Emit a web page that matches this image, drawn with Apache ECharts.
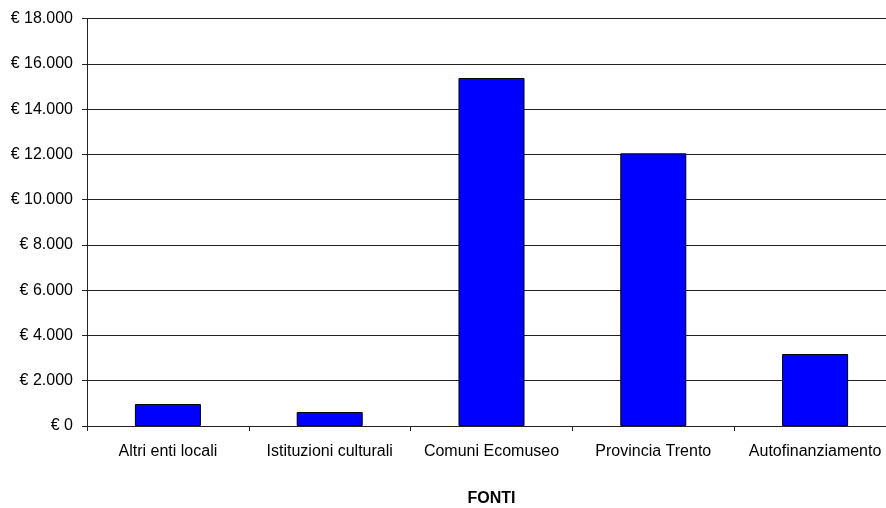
<!DOCTYPE html>
<html><head><meta charset="utf-8">
<script src="https://cdn.jsdelivr.net/npm/echarts@6/dist/echarts.min.js"></script>
<style>html,body{margin:0;padding:0;background:#fff;overflow:hidden}#c{width:886px;height:508px}</style>
</head><body><div id="c"></div>
<script>
const categories = ["Altri enti locali","Istituzioni culturali","Comuni Ecomuseo","Provincia Trento","Autofinanziamento"];
const values = [970, 620, 15380, 12050, 3180];
const axisName = "FONTI";

const chart = echarts.init(document.getElementById('c'), null, {renderer:'canvas'});
const font = "'Liberation Sans', Arial, sans-serif";
function fmt(v){
  if (v === 0) return '€ 0';
  return '€ ' + String(v).replace(/(\d)(?=(\d{3})+$)/g,'$1.');
}
chart.setOption({
  animation:false,
  backgroundColor:'#fff',
  grid:{left:87,right:-10,top:18.7,bottom:82,containLabel:false,outerBoundsMode:'none'},
  xAxis:{
    type:'category', data:categories,
    name:axisName, nameLocation:'middle', nameGap:65,
    nameTextStyle:{fontFamily:font,fontSize:16,fontWeight:'bold',color:'#000'},
    axisLine:{lineStyle:{color:'#222',width:1}},
    axisTick:{show:true,alignWithLabel:false,length:5,lineStyle:{color:'#222'}},
    axisLabel:{fontFamily:font,fontSize:16,color:'#000',margin:18,interval:0}
  },
  yAxis:{
    type:'value', min:0, max:18000, interval:2000,
    axisLine:{show:true,lineStyle:{color:'#222',width:1}},
    axisTick:{show:true,length:5,lineStyle:{color:'#222'}},
    axisLabel:{fontFamily:font,fontSize:16,color:'#000',margin:14,formatter:fmt},
    splitLine:{show:true,lineStyle:{color:'#222',width:1}}
  },
  series:[{
    type:'bar', data:values, barWidth:'40.8%',
    itemStyle:{color:'#0000ff',borderColor:'#000',borderWidth:1}
  }]
});
</script></body></html>
